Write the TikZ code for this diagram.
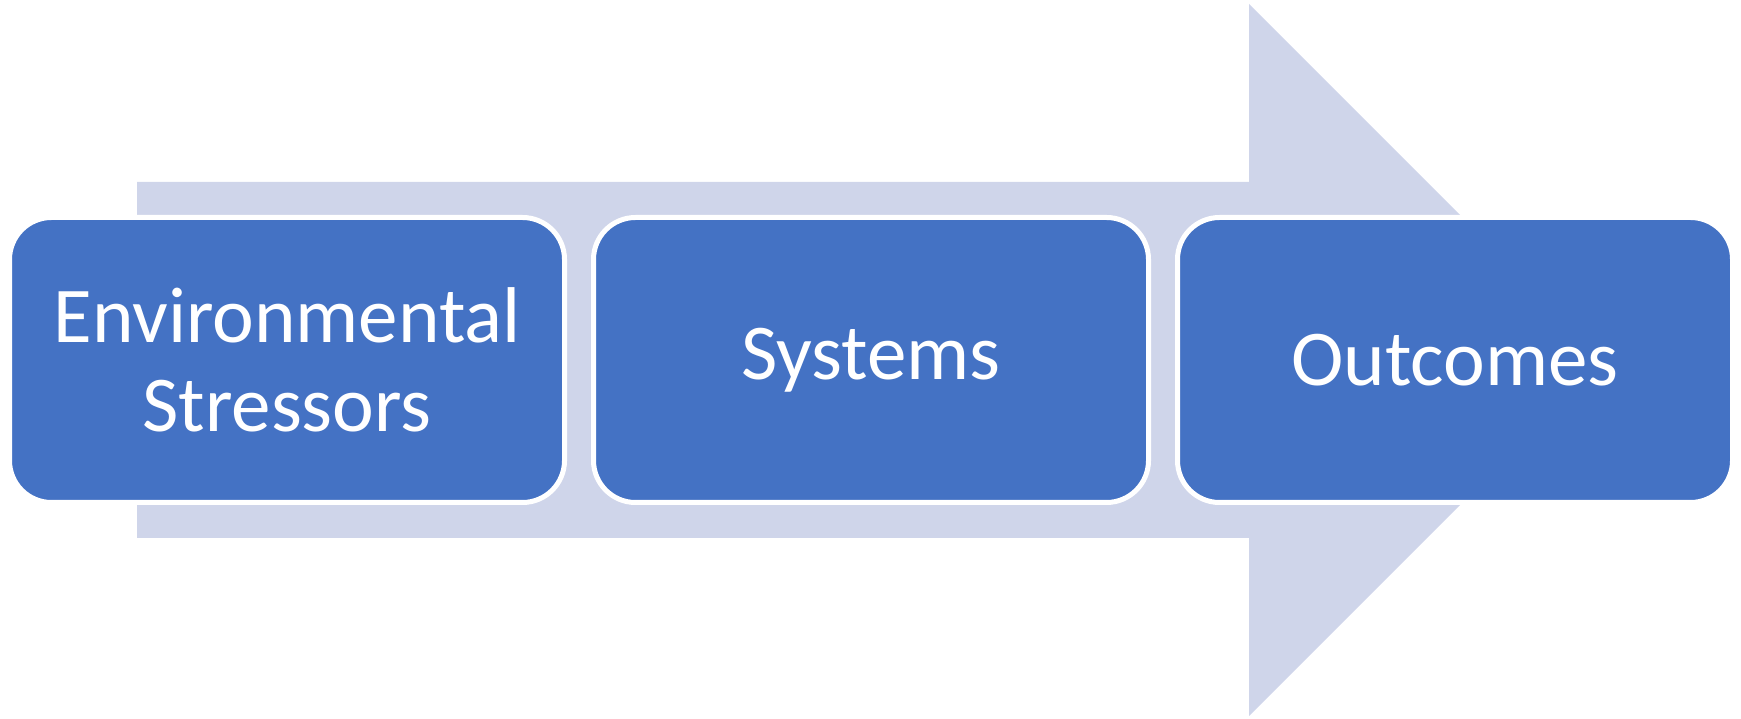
\documentclass[tikz,border=0pt]{standalone}
\usepackage{fontspec}
\setmainfont{Carlito}
\usepackage{xcolor}
\usetikzlibrary{positioning}

\definecolor{stageblue}{HTML}{4472C4}
\definecolor{arrowlilac}{HTML}{CFD5EA}

\begin{document}
\begin{tikzpicture}[
            node distance=0.48cm,
            stage/.style={rectangle, rounded corners=0.84cm, fill=stageblue, draw=white, line width=0.1cm,
                          minimum width=11.1cm, minimum height=5.7cm, align=center, text=white,
                          font=\fontsize{45pt}{50.6pt}\selectfont}
        ]
        \useasboundingbox (0,0) rectangle (34.82,14.38);

        % Background arrow
        \fill[arrowlilac] (2.74,10.74) -- (24.98,10.74) -- (24.98,14.30) -- (32.10,7.18)
            -- (24.98,0.06) -- (24.98,3.62) -- (2.74,3.62) -- cycle;

        % Stages
        \node[stage] (env_stress) at (5.74,7.18) {Environmental\\Stressors};
        \node[stage, right=of env_stress] (systems) {Systems};
        \node[stage, right=of systems] (outcomes) {Outcomes};
    \end{tikzpicture}
\end{document}
